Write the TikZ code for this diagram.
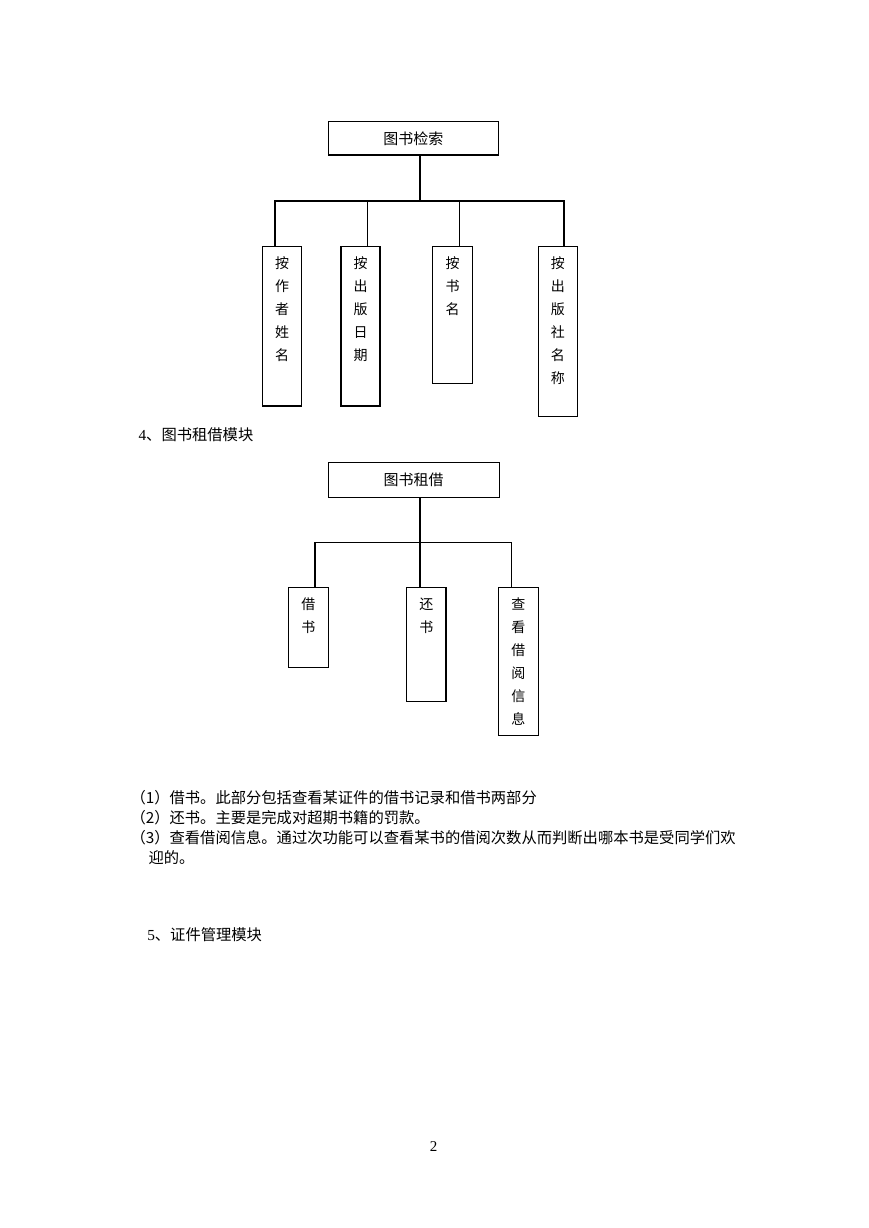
\documentclass[tikz,border=0pt]{standalone}
\usepackage{fontspec}
\setmainfont{Liberation Serif}
\newfontfamily\cjk{Noto Sans CJK SC}
\begin{document}
\begin{tikzpicture}[x=1pt,y=-1pt,
  line width=1.1pt,
  topbox/.style={draw, line width=1.1pt, inner sep=0pt, font=\cjk\fontsize{15}{15}\selectfont},
  colbox/.style={draw, line width=1.1pt, inner sep=0pt},
  vlab/.style={anchor=north, inner sep=0pt, align=center, font=\cjk\fontsize{14}{23}\selectfont},
  bodytext/.style={anchor=west, inner sep=0pt, font=\cjk\fontsize{15.3}{15.3}\selectfont},
  conn/.style={line width=1.1pt}]
\useasboundingbox (0,0) rectangle (869,1228);
\fill[white] (0,0) rectangle (869,1228);

% ---- diagram 1: 图书检索 ----
\node[topbox, minimum width=170pt, minimum height=33.3pt] (t1) at (413.3,138.3) {图书检索};
\node[colbox, minimum width=39pt, minimum height=159.3pt] (c1) at (282.2,326.35) {};
\node[colbox, minimum width=39pt, minimum height=159.3pt] (c2) at (360.5,326.35) {};
\node[colbox, minimum width=39.6pt, minimum height=136.6pt] (c3) at (452.5,315) {};
\node[colbox, minimum width=39pt, minimum height=170pt] (c4) at (557.8,331.7) {};
\node[vlab] (c1t) at ([yshift=-9.5pt]c1.north) {按\\作\\者\\姓\\名};
\node[vlab] (c2t) at ([yshift=-9.5pt]c2.north) {按\\出\\版\\日\\期};
\node[vlab] (c3t) at ([yshift=-9.5pt]c3.north) {按\\书\\名};
\node[vlab] (c4t) at ([yshift=-9.5pt]c4.north) {按\\出\\版\\社\\名\\称};
\coordinate (b1) at (420,201);
\coordinate (s1) at (275,201);
\coordinate (s2) at (367.3,201);
\coordinate (s3) at (459.3,201);
\coordinate (s4) at (564,201);
\draw[conn] (t1.south -| b1) -- (b1);
\draw[conn] (s1 |- c1.north) -- (s1) -- (s4) -- (s4 |- c4.north);
\draw[conn] (s2) -- (s2 |- c2.north);
\draw[conn] (s3) -- (s3 |- c3.north);

% ---- heading 4 ----
\node[bodytext] (h4) at (138,435) {{\rmfamily 4}、图书租借模块};

% ---- diagram 2: 图书租借 ----
\node[topbox, minimum width=170.7pt, minimum height=34.6pt] (t2) at (413.7,480) {图书租借};
\node[colbox, minimum width=40pt, minimum height=80pt] (d1) at (308.3,627.7) {};
\node[colbox, minimum width=39.3pt, minimum height=114pt] (d2) at (426.3,644.7) {};
\node[colbox, minimum width=40pt, minimum height=148pt] (d3) at (518.3,661.7) {};
\node[vlab] (d1t) at ([yshift=-10pt]d1.north) {借\\书};
\node[vlab] (d2t) at ([yshift=-10pt]d2.north) {还\\书};
\node[vlab] (d3t) at ([yshift=-10pt]d3.north) {查\\看\\借\\阅\\信\\息};
\coordinate (b2) at (420,542.7);
\coordinate (e1) at (315,542.7);
\coordinate (e3) at (511.7,542.7);
\draw[conn] (t2.south -| b2) -- (b2 |- d2.north);
\draw[conn] (e1 |- d1.north) -- (e1) -- (e3) -- (e3 |- d3.north);

% ---- body text ----
\node[bodytext] (p1) at (130,798) {（1）借书。此部分包括查看某证件的借书记录和借书两部分};
\node[bodytext] (p2) at (130,818) {（2）还书。主要是完成对超期书籍的罚款。};
\node[bodytext] (p3) at (130,838) {（3）查看借阅信息。通过次功能可以查看某书的借阅次数从而判断出哪本书是受同学们欢};
\node[bodytext] (p4) at (148,858) {迎的。};
\node[bodytext] (h5) at (146.7,935) {{\rmfamily 5}、证件管理模块};
\node[inner sep=0pt, font=\rmfamily\fontsize{15}{15}\selectfont] (pg) at (433.5,1147) {2};
\end{tikzpicture}
\end{document}
